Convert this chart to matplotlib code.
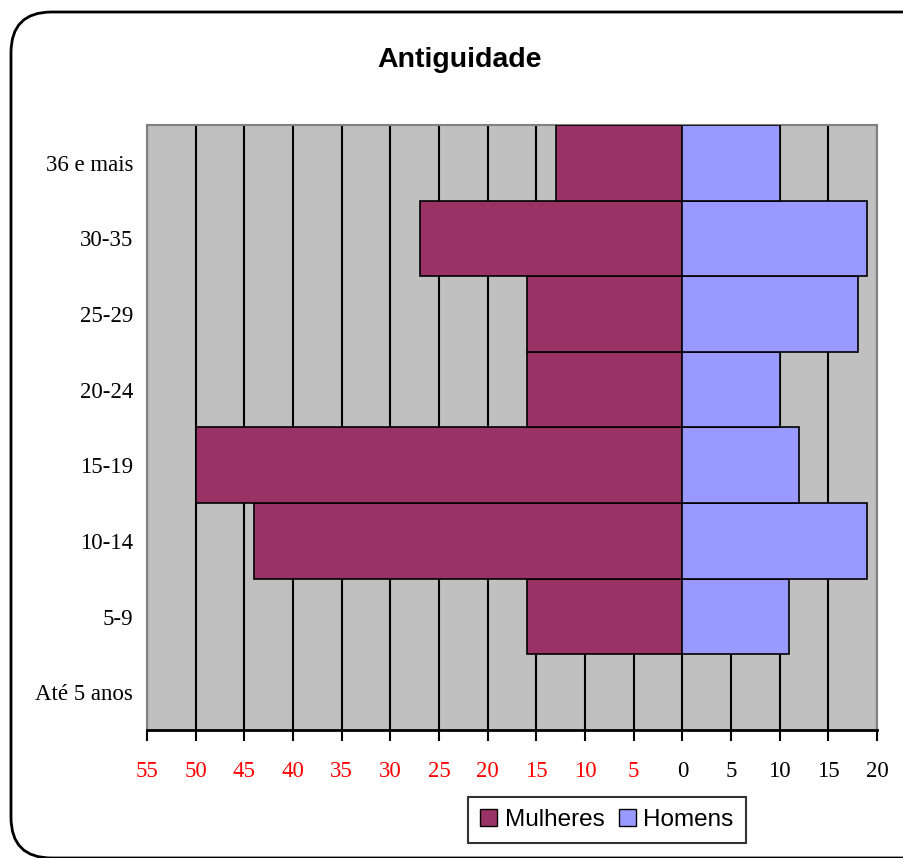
import matplotlib
matplotlib.use("Agg")
import matplotlib.pyplot as plt
from matplotlib.patches import FancyBboxPatch, Patch
import numpy as np

# Data (bottom to top)
categories = ["Até 5 anos", "5-9", "10-14", "15-19", "20-24", "25-29", "30-35", "36 e mais"]
mulheres = [0, 16, 44, 50, 16, 16, 27, 13]
homens = [0, 11, 19, 12, 10, 18, 19, 10]
x_ticks = list(range(-55, 21, 5))

COLORS = {
    "mulheres": "#993366",
    "homens": "#9999FF",
    "bg": "#C0C0C0",
}

fig = plt.figure(figsize=(9.04, 8.58), dpi=100)
ax = fig.add_axes([147 / 904, 1 - 730 / 858, (877 - 147) / 904, (730 - 125) / 858])

# rounded chart frame
frame = FancyBboxPatch((11 / 904, 0.0), 1.2, 1 - 12 / 858, boxstyle="round,pad=0,rounding_size=0.045",
                       transform=fig.transFigure, facecolor="white", edgecolor="black",
                       linewidth=2, zorder=-10, mutation_aspect=904 / 858)
fig.patches.append(frame)

y = np.arange(len(categories))
ax.set_facecolor(COLORS["bg"])
ax.barh(y, [-v for v in mulheres], height=1.0, color=COLORS["mulheres"], edgecolor="black",
        linewidth=1.2, label="Mulheres", zorder=3)
ax.barh(y, homens, height=1.0, color=COLORS["homens"], edgecolor="black",
        linewidth=1.2, label="Homens", zorder=3)

ax.set_xlim(-55, 20)
ax.set_ylim(-0.5, len(categories) - 0.5)
ax.set_xticks(x_ticks)
ax.set_xticklabels([str(abs(t)) for t in x_ticks], family="Liberation Serif", fontsize=16.5)
for t, lbl in zip(x_ticks, ax.get_xticklabels()):
    lbl.set_color("red" if t < 0 else "black")
ax.xaxis.grid(True, color="black", linewidth=1.5, zorder=1)
ax.set_axisbelow(True)
ax.tick_params(axis="x", direction="out", length=8, width=1.5, pad=14)

ax.set_yticks(y)
ax.set_yticklabels(categories, family="Liberation Serif", fontsize=16.5)
ax.tick_params(axis="y", length=0, pad=10)

for side in ["top", "right", "left"]:
    ax.spines[side].set_color("#808080")
    ax.spines[side].set_linewidth(1.5)
ax.spines["bottom"].set_color("black")
ax.spines["bottom"].set_linewidth(2)

fig.text(460 / 904, 1 - 60 / 858, "Antiguidade", ha="center", va="center",
         family="Liberation Sans", fontweight="bold", fontsize=20.5)

handles = [Patch(facecolor=COLORS["mulheres"], edgecolor="black", label="Mulheres"),
           Patch(facecolor=COLORS["homens"], edgecolor="black", label="Homens")]
leg = fig.legend(handles=handles, loc="center", bbox_to_anchor=(607 / 904, 1 - 820 / 858),
                 ncol=2, frameon=True, fancybox=False, handlelength=0.7, handleheight=0.7,
                 handletextpad=0.3, columnspacing=0.6, borderpad=0.5,
                 prop={"family": "Liberation Sans", "size": 17.5})
leg.get_frame().set_edgecolor("black")
leg.get_frame().set_linewidth(1.5)

fig.savefig("out.png", dpi=100)
